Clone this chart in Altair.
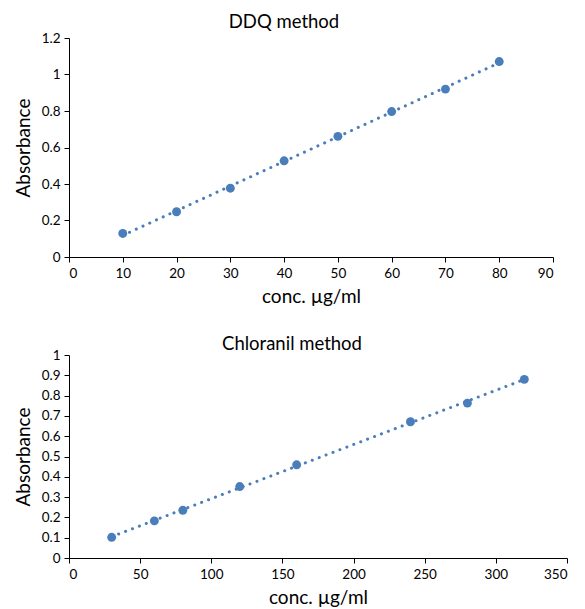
import altair as alt
import pandas as pd

# DDQ method
ddq_conc = [10, 20, 30, 40, 50, 60, 70, 80]
ddq_abs = [0.129, 0.248, 0.377, 0.527, 0.661, 0.797, 0.920, 1.071]
ddq_xticks = [0, 10, 20, 30, 40, 50, 60, 70, 80, 90]
ddq_yticks = [0, 0.2, 0.4, 0.6, 0.8, 1.0, 1.2]

# Chloranil method
chl_conc = [30, 60, 80, 120, 160, 240, 280, 320]
chl_abs = [0.102, 0.183, 0.235, 0.352, 0.459, 0.671, 0.763, 0.880]
chl_xticks = [0, 50, 100, 150, 200, 250, 300, 350]
chl_yticks = [0, 0.1, 0.2, 0.3, 0.4, 0.5, 0.6, 0.7, 0.8, 0.9, 1.0]

COLOR = "#4A7EBB"
FONT = "Lato"


def panel(conc, ab, title, xticks, yticks, width, height, dx, dy):
    df = pd.DataFrame({"conc": conc, "abs": ab})
    x = alt.X(
        "conc:Q",
        scale=alt.Scale(domain=[xticks[0], xticks[-1]], nice=False),
        axis=alt.Axis(values=xticks, title="conc. µg/ml"),
    )
    y = alt.Y(
        "abs:Q",
        scale=alt.Scale(domain=[yticks[0], yticks[-1]], nice=False),
        axis=alt.Axis(values=yticks, format=".1~f", title="Absorbance"),
    )
    base = alt.Chart(df)
    trend = (
        base.transform_regression("conc", "abs")
        .mark_line(color=COLOR, strokeWidth=3, strokeCap="round", strokeDash=[0.1, 7.3])
        .encode(x=x, y=y)
    )
    pts = base.mark_circle(size=80, opacity=1, color=COLOR).encode(x=x, y=y)
    return alt.layer(trend, pts).properties(
        width=width,
        height=height,
        title=alt.TitleParams(
            title, anchor="middle", dx=dx, dy=dy, fontSize=18.5, fontWeight="normal",
            font=FONT, color="black", offset=5,
        ),
    )


top = panel(ddq_conc, ddq_abs, "DDQ method", ddq_xticks, ddq_yticks, 484, 219, -27, 5)
bottom = panel(chl_conc, chl_abs, "Chloranil method", chl_xticks, chl_yticks, 498, 203, -26, 10)

chart = (
    alt.vconcat(top, bottom, spacing=27)
    .properties(padding={"left": 14, "top": 12, "right": 3, "bottom": 0})
    .configure_view(stroke=None)
    .configure_axis(
        grid=False,
        domainColor="black",
        tickColor="black",
        labelColor="black",
        titleColor="black",
        labelFont=FONT,
        titleFont=FONT,
        labelFontSize=13.5,
        titleFontSize=19,
        titleFontWeight="normal",
        tickSize=5,
        labelPadding=4,
    )
    .configure_axisY(titlePadding=8)
    .configure_axisX(titlePadding=8)
)

chart.save("out.html", embed_options={"renderer": "svg", "actions": False})
